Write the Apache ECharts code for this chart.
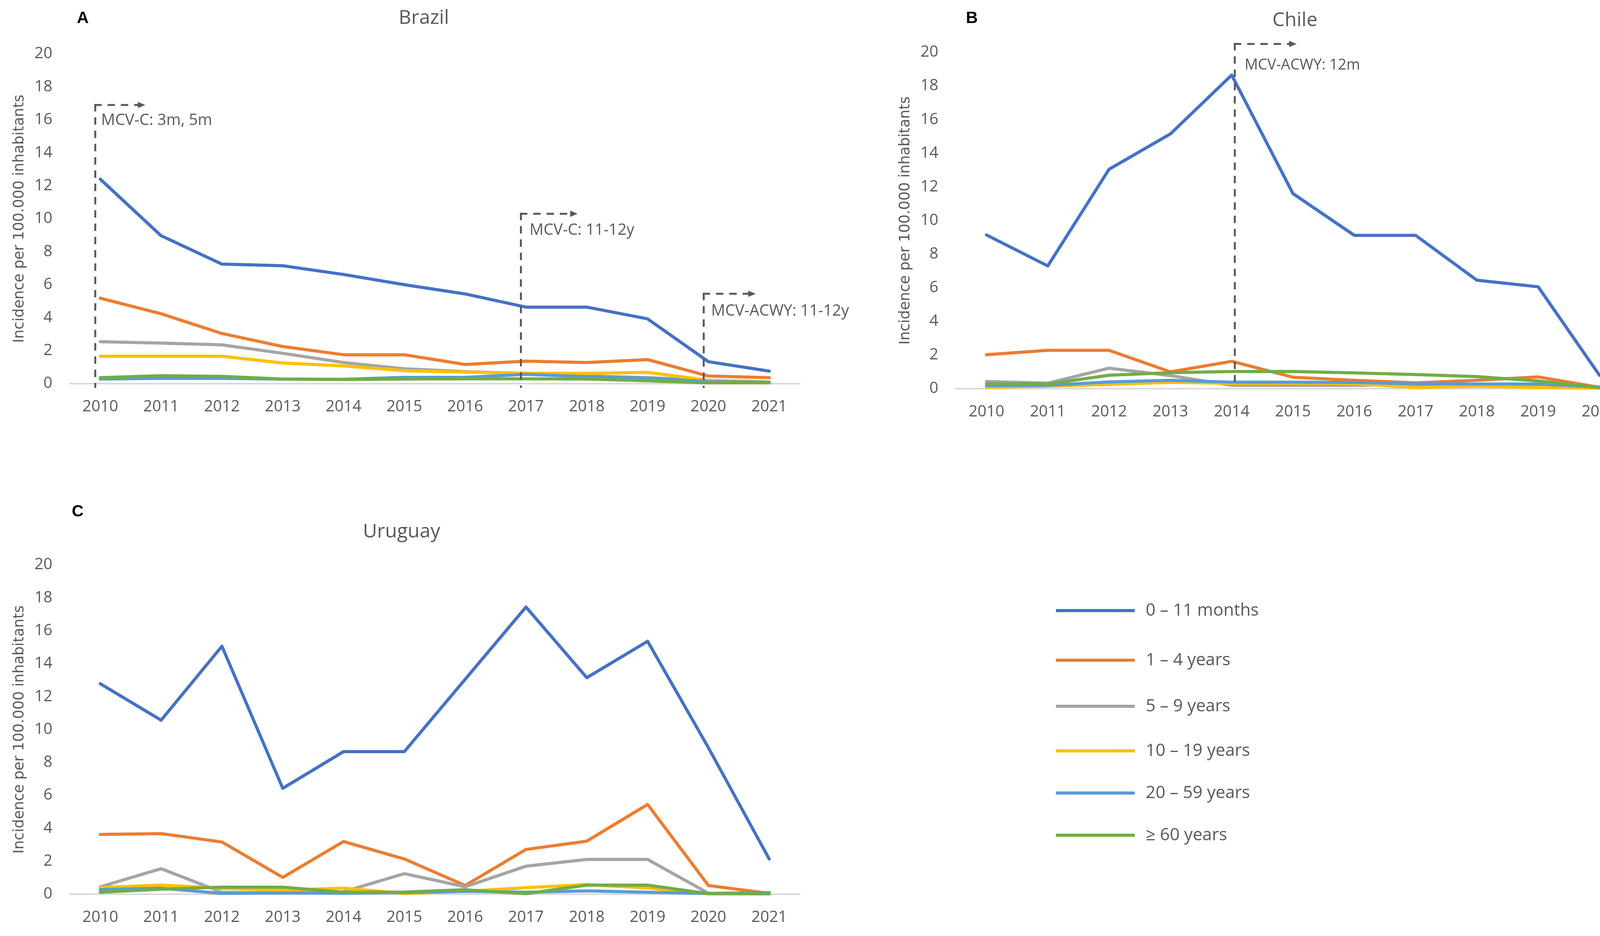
<!DOCTYPE html>
<html><head><meta charset="utf-8">
<script src="https://cdn.jsdelivr.net/npm/echarts@6/dist/echarts.min.js"></script>
<style>html,body{margin:0;padding:0;background:#fff}#c{width:4347px;height:2396px}</style>
</head><body><div id="c"></div>
<script>
// ---------- data ----------
const years = ['2010','2011','2012','2013','2014','2015','2016','2017','2018','2019','2020','2021'];
const groupNames = ['0 – 11 months','1 – 4 years','5 – 9 years','10 – 19 years','20 – 59 years','≥ 60 years'];
const countries = ['Brazil','Chile','Uruguay'];
const panelLetters = ['A','B','C'];
const yMin = 0, yMax = 20, yInterval = 2;

const brazil_0_11m  = [12.4, 8.97, 7.25, 7.15, 6.62, 6.0, 5.44, 4.64, 4.64, 3.93, 1.33, 0.76];
const brazil_1_4y   = [5.18, 4.24, 3.04, 2.25, 1.75, 1.75, 1.16, 1.36, 1.28, 1.46, 0.46, 0.36];
const brazil_5_9y   = [2.54, 2.46, 2.35, 1.84, 1.28, 0.9, 0.73, 0.62, 0.47, 0.36, 0.2, 0.1];
const brazil_10_19y = [1.66, 1.66, 1.66, 1.25, 1.07, 0.78, 0.7, 0.63, 0.62, 0.68, 0.2, 0.09];
const brazil_20_59y = [0.28, 0.32, 0.32, 0.27, 0.26, 0.38, 0.38, 0.56, 0.42, 0.34, 0.12, 0.08];
const brazil_60y    = [0.36, 0.48, 0.44, 0.28, 0.25, 0.28, 0.29, 0.29, 0.28, 0.17, 0.05, 0.05];

const chile_0_11m   = [9.14, 7.3, 13.05, 15.15, 18.65, 11.6, 9.12, 9.12, 6.45, 6.06, 0.8, 3.35];
const chile_1_4y    = [2.02, 2.28, 2.28, 1.0, 1.63, 0.68, 0.5, 0.35, 0.5, 0.7, 0.08, 0.35];
const chile_5_9y    = [0.43, 0.33, 1.22, 0.78, 0.2, 0.2, 0.2, 0.25, 0.27, 0.23, 0.06, 0.12];
const chile_10_19y  = [0.07, 0.15, 0.25, 0.38, 0.32, 0.33, 0.3, 0.07, 0.15, 0.07, 0.03, 0.05];
const chile_20_59y  = [0.18, 0.2, 0.4, 0.5, 0.39, 0.39, 0.37, 0.29, 0.28, 0.28, 0.1, 0.22];
const chile_60y     = [0.29, 0.28, 0.8, 0.95, 1.02, 1.02, 0.94, 0.84, 0.72, 0.46, 0.07, 0.07];

const uruguay_0_11m  = [12.78, 10.57, 15.06, 6.43, 8.66, 8.66, 13.05, 17.44, 13.15, 15.36, 8.9, 2.14];
const uruguay_1_4y   = [3.63, 3.68, 3.17, 1.02, 3.2, 2.14, 0.53, 2.72, 3.22, 5.45, 0.53, 0.05];
const uruguay_5_9y   = [0.45, 1.55, 0.12, 0.08, 0.15, 1.25, 0.45, 1.7, 2.11, 2.11, 0.06, 0.04];
const uruguay_10_19y = [0.41, 0.55, 0.36, 0.25, 0.37, 0.04, 0.18, 0.4, 0.58, 0.38, 0.03, 0.02];
const uruguay_20_59y = [0.28, 0.36, 0.05, 0.08, 0.06, 0.1, 0.18, 0.12, 0.2, 0.12, 0.05, 0.1];
const uruguay_60y    = [0.12, 0.3, 0.43, 0.43, 0.12, 0.13, 0.27, 0.03, 0.55, 0.55, 0.03, 0.03];

// vaccine introduction annotations (category, value range of the marker line)
const annotationText = ['MCV-C: 3m, 5m','MCV-C: 11-12y','MCV-ACWY: 11-12y','MCV-ACWY: 12m'];
const annotationYear = ['2010','2017','2020','2014'];
const annotationTop  = [16.9, 10.3, 5.45, 20.5];
const annotationBottom = [-0.26, -0.26, -0.26, 0.42];
const annotationPanel = [0, 0, 0, 1];

// ---------- styling / layout ----------
const colors = ['#4472C4','#ED7D31','#A5A5A5','#FFC000','#5B9BD5','#70AD47'];
const data = [
  [brazil_0_11m, brazil_1_4y, brazil_5_9y, brazil_10_19y, brazil_20_59y, brazil_60y],
  [chile_0_11m, chile_1_4y, chile_5_9y, chile_10_19y, chile_20_59y, chile_60y],
  [uruguay_0_11m, uruguay_1_4y, uruguay_5_9y, uruguay_10_19y, uruguay_20_59y, uruguay_60y]
];
const grids = [
  {left: 179, top: 138, width: 1868, height: 844},
  {left: 2447, top: 134, width: 1883, height: 861},
  {left: 179, top: 1446, width: 1868, height: 843}
];
const titlePos = [[1085, 47], [3315, 53], [1028, 1362]];
const letterPos = [[212, 47], [2488, 47], [199, 1310]];
const legendY = [1563, 1690, 1808, 1922, 2030, 2138];
const annDx = [-13, -13, -12, 8];
const annArrow = [128, 145, 133, 158];
const annTextDx = [15, 22, 19, 25];
const annTextDy = [40, 42, 45, 55];
const annFont = [40, 40, 40, 38];

const txt = '#595959';
const FONT = 'Open Sans';

const chart = echarts.init(document.getElementById('c'), null, {renderer: 'canvas'});

const titles = [];
countries.forEach((c, i) => {
  titles.push({text: c, left: titlePos[i][0], top: titlePos[i][1] - 26, textAlign: 'center',
    textStyle: {fontFamily: FONT, fontSize: 50, lineHeight: 52, fontWeight: 'normal', color: txt}, padding: 0});
  titles.push({text: panelLetters[i], left: letterPos[i][0], top: letterPos[i][1] - 22, textAlign: 'center',
    textStyle: {fontFamily: 'Liberation Sans', fontSize: 42, lineHeight: 44, fontWeight: 'bold', color: '#000'}, padding: 0});
});

const xAxes = grids.map((g, i) => ({
  type: 'category', gridIndex: i, data: years, boundaryGap: true,
  axisLine: {show: true, lineStyle: {color: '#D9D9D9', width: 4}},
  axisTick: {show: false},
  axisLabel: {fontFamily: FONT, fontSize: 40, lineHeight: 40, color: txt, margin: 40, interval: 0},
  splitLine: {show: false}
}));
const yAxes = grids.map((g, i) => ({
  type: 'value', gridIndex: i, min: yMin, max: yMax, interval: yInterval,
  name: 'Incidence per 100.000 inhabitants', nameLocation: 'middle', nameGap: 110,
  nameTextStyle: {fontFamily: 'DejaVu Sans', fontSize: 37, color: txt},
  axisLine: {show: false}, axisTick: {show: false}, splitLine: {show: false},
  axisLabel: {fontFamily: FONT, fontSize: 40, color: txt, margin: 45}
}));

const series = [];
data.forEach((country, gi) => {
  country.forEach((vals, si) => {
    series.push({
      name: groupNames[si], type: 'line', xAxisIndex: gi, yAxisIndex: gi,
      data: vals, symbol: 'none', smooth: false,
      lineStyle: {color: colors[si], width: 8, cap: 'round', join: 'round'},
      itemStyle: {color: colors[si]},
      emphasis: {disabled: true}, animation: false
    });
  });
});

const legends = groupNames.map((n, i) => ({
  data: [n], left: 2703, top: legendY[i] - 23, orient: 'vertical',
  itemWidth: 202, itemHeight: 8, icon: 'rect', selectedMode: false, padding: 0,
  textStyle: {fontFamily: FONT, fontSize: 44, lineHeight: 46, color: txt, padding: [0, 0, 0, 23]}
}));

chart.setOption({
  backgroundColor: '#fff',
  animation: false,
  color: colors,
  title: titles,
  grid: grids.map(g => Object.assign({containLabel: false}, g)),
  xAxis: xAxes, yAxis: yAxes,
  legend: legends,
  series: series
});

// annotations: dashed marker lines with arrows, positioned through the axes' scales
const gfx = [];
annotationText.forEach((t, i) => {
  const g = annotationPanel[i];
  const pTop = chart.convertToPixel({gridIndex: g}, [annotationYear[i], annotationTop[i]]);
  const pBot = chart.convertToPixel({gridIndex: g}, [annotationYear[i], annotationBottom[i]]);
  const x = pTop[0] + annDx[i];
  const yT = pTop[1], yB = pBot[1];
  const tip = x + annArrow[i];
  const dash = {stroke: '#595959', lineWidth: 5, lineDash: [19, 15]};
  gfx.push({type: 'line', shape: {x1: x, y1: yT - 2.5, x2: x, y2: yB}, style: Object.assign({}, dash), silent: true, z: 10});
  gfx.push({type: 'line', shape: {x1: x - 2.5, y1: yT, x2: tip - 18, y2: yT}, style: Object.assign({}, dash), silent: true, z: 10});
  gfx.push({type: 'polygon', shape: {points: [[tip - 19, yT - 8], [tip, yT], [tip - 19, yT + 8]]}, style: {fill: '#595959'}, silent: true, z: 10});
  gfx.push({type: 'text', x: x + annTextDx[i], y: yT + annTextDy[i], silent: true, z: 10,
    style: {text: t, fill: txt, font: annFont[i] + 'px "' + FONT + '"', verticalAlign: 'middle', align: 'left'}});
});
chart.setOption({graphic: gfx});
</script>
</body></html>
